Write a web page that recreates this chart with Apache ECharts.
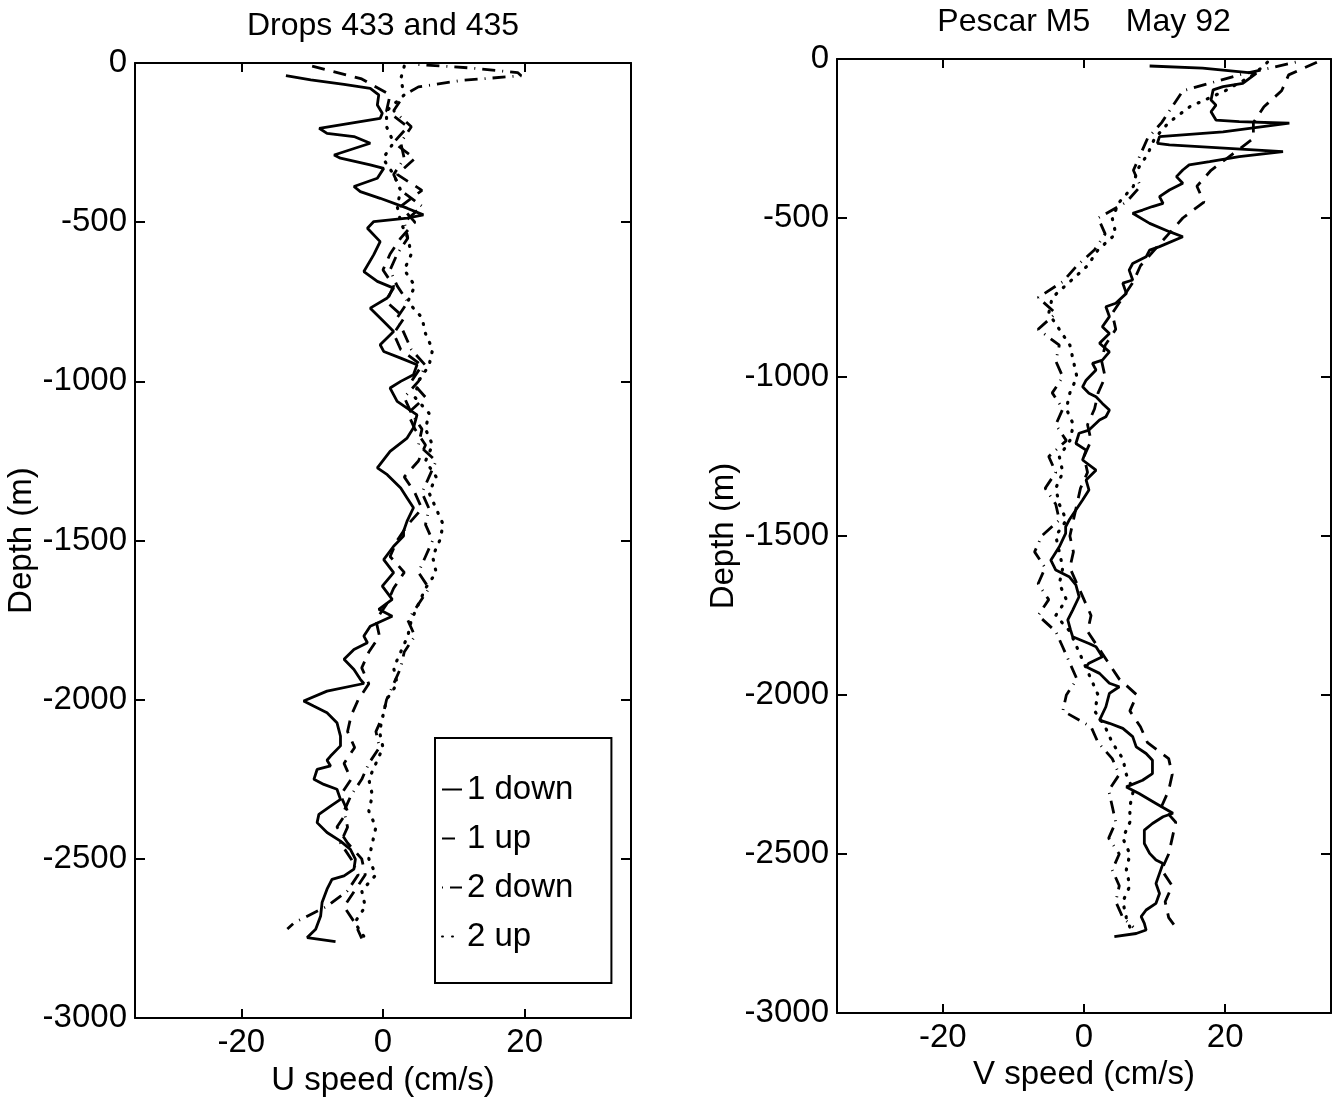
<!DOCTYPE html>
<html>
<head>
<meta charset="utf-8">
<title>Drops 433 and 435 / Pescar M5 May 92</title>
<script src="https://cdn.jsdelivr.net/npm/echarts@6/dist/echarts.min.js"></script>
<style>
  html, body { margin: 0; padding: 0; background: #fff; }
  #chart { width: 1335px; height: 1102px; }
</style>
</head>
<body>
<div id="chart"></div>
<script>
// ---------------- DATA ----------------
const seriesNames = ['1 down', '1 up', '2 down', '2 up'];
const xTickValues = [-20, 0, 20];

// Left panel (U speed) : 1 down (solid)
const leftDownDepth = [-40,-53,-67,-80,-100,-132,-158,-174,-205,-221,-231,-252,-289,-299,-320,-331,-362,-388,-404,-425,-456,-477,-487,-498,-519,-561,-602,-655,-686,-707,-738,-770,-812,-843,-885,-906,-927,-948,-979,-1000,-1021,-1063,-1105,-1146,-1178,-1220,-1272,-1293,-1335,-1366,-1397,-1439,-1471,-1486,-1518,-1560,-1601,-1643,-1685,-1716,-1738,-1769,-1800,-1821,-1842,-1873,-1905,-1936,-1949,-1973,-2004,-2020,-2041,-2072,-2114,-2145,-2177,-2190,-2208,-2219,-2250,-2266,-2281,-2313,-2334,-2360,-2386,-2417,-2444,-2470,-2501,-2532,-2553,-2564,-2595,-2637,-2679,-2721,-2747,-2760];
const leftDownU = [-13.7,-10.2,-5.5,-1.8,-0.6,-0.8,-0.1,-0.4,-9.0,-7.9,-4.1,-1.8,-6.9,-6.0,-1.8,0.1,-0.8,-4.1,-3.2,-0.4,3.4,5.7,3.4,-1.3,-2.2,-0.4,-1.3,-2.7,-0.8,1.5,0.6,-1.8,0.1,1.5,-0.4,0.1,2.5,4.8,4.3,2.5,1.0,2.0,4.8,4.3,3.4,1.0,-0.8,0.6,2.5,3.4,4.3,3.4,2.9,2.9,1.5,0.1,1.5,-0.1,1.3,-0.6,1.3,-1.8,-2.7,-2.2,-4.1,-5.5,-4.1,-3.2,-2.7,-7.9,-11.2,-9.8,-7.9,-6.5,-6.0,-6.0,-7.4,-7.9,-7.4,-9.3,-9.75,-8.35,-6.5,-6.0,-7.4,-9.05,-9.3,-7.9,-6.0,-4.6,-3.9,-4.1,-5.5,-7.2,-7.9,-8.6,-8.8,-9.5,-10.7,-6.7];

// Left panel common depth grid (m) for 1 up and 2 up
const leftGridDepth = [-10,-50,-100,-150,-200,-250,-300,-350,-400,-450,-500,-550,-600,-650,-700,-750,-800,-850,-900,-950,-1000,-1050,-1100,-1150,-1200,-1250,-1300,-1350,-1400,-1450,-1500,-1550,-1600,-1650,-1700,-1750,-1800,-1850,-1900,-1950,-2000,-2050,-2100,-2150,-2200,-2250,-2300,-2350,-2400,-2450,-2500,-2550,-2600,-2650,-2700,-2750];
const leftUp1U = [-10,-3,1,0.5,3.5,1.5,4.5,2,5.5,2.5,4.5,2.5,1,0,1.5,0.5,3,1.5,2.5,5.5,4,6,3.5,4.5,6,5,3,4.5,5.5,3.5,2,1,3,1.5,0.5,-1,-0.5,-2,-3,-2,-3.5,-4.5,-5,-4,-5.5,-4.5,-6,-5,-6.5,-5,-3,-2.5,-4,-5.5,-4,-3];
const leftUp2U = [3,2.5,3,0.5,0.5,1.5,0,1.5,2.5,2,2.5,3.5,4,3,4.5,3.5,5.5,6,7,6.5,5,4.5,6.5,6,7,6,7.5,6.5,7.5,8.5,8,7,7.5,6,5,4,3.5,2.5,1.5,2,0.5,0,-0.5,0,-1,-2,-1.5,-2,-1,-1.5,-2,-1,-3,-2.5,-4,-2.5];

// Left panel : 2 down (dash-dot)
const leftDown2Depth = [-5,-15,-30,-40,-55,-75,-100,-150,-200,-250,-300,-350,-400,-450,-500,-550,-600,-650,-700,-750,-800,-850,-900,-950,-1000,-1050,-1100,-1150,-1200,-1250,-1300,-1350,-1400,-1450,-1500,-1550,-1600,-1650,-1700,-1750,-1800,-1850,-1900,-1950,-2000,-2050,-2100,-2150,-2200,-2250,-2300,-2350,-2400,-2450,-2500,-2550,-2600,-2650,-2700,-2720];
const leftDown2U = [5,12,19,19.5,11,5,3,1.5,4,2.5,3,1.5,2.5,5.5,3,3.5,2,1,2,3.5,2,3,4,6,5,3,4,5.5,5,7.5,6.5,5.5,6.5,6,7,6,5,6.5,5,3.5,4.5,3,2.5,1.5,0.5,0,-1,-0.5,-2,-3,-4.5,-5.5,-5,-6,-4.5,-3.5,-5,-8,-12.5,-13.5];

// Right panel (V speed) : 1 down (solid)
const rightDownDepth = [-22,-29,-45,-77,-87,-97,-129,-145,-166,-192,-197,-202,-229,-244,-265,-270,-291,-307,-323,-333,-349,-370,-391,-412,-433,-454,-464,-475,-485,-517,-543,-559,-590,-601,-622,-643,-664,-695,-705,-737,-768,-779,-810,-842,-863,-894,-921,-947,-957,-978,-1010,-1031,-1051,-1062,-1083,-1104,-1125,-1135,-1167,-1177,-1209,-1230,-1261,-1293,-1324,-1355,-1387,-1418,-1450,-1471,-1492,-1534,-1576,-1607,-1628,-1654,-1691,-1733,-1764,-1796,-1817,-1838,-1848,-1880,-1900,-1911,-1932,-1963,-1974,-1995,-2037,-2079,-2089,-2105,-2131,-2163,-2184,-2205,-2247,-2268,-2289,-2310,-2341,-2372,-2383,-2404,-2425,-2467,-2498,-2519,-2530,-2561,-2593,-2624,-2655,-2676,-2697,-2718,-2739,-2750,-2760];
const rightDownV = [9.3,16.8,24.4,22.5,19.7,18.3,18.0,18.7,18.0,18.7,22.0,29.1,19.7,10.7,10.4,12.1,28.2,22.0,17.8,14.9,14.0,13.1,14.0,12.1,10.7,11.2,9.7,8.3,6.9,9.3,12.1,14.0,10.7,9.3,8.8,6.9,6.4,6.9,5.5,6.0,4.5,3.1,3.6,2.6,3.6,2.2,3.6,2.6,1.2,1.7,0.3,-0.2,0.7,1.7,2.6,3.6,3.1,2.2,0.7,-0.7,-1.15,0.3,-0.2,1.7,0.3,0.7,-0.2,-1.15,-2.1,-2.6,-2.6,-3.5,-4.7,-4.0,-2.1,-1.15,-0.7,-1.6,-2.3,-1.9,-1.6,0.7,1.7,2.6,0.7,0.3,2.2,3.6,5.0,3.6,3.1,2.2,3.6,5.5,6.9,7.4,8.8,9.7,9.7,8.3,6.0,7.8,10.2,12.6,11.2,9.7,8.55,8.55,9.3,10.2,11.2,10.7,10.2,10.7,10.2,8.8,8.1,8.55,8.8,7.4,4.3];

// Right panel common depth grid (m) for 1 up, 2 down, 2 up
const rightGridDepth = [-10,-50,-100,-150,-200,-250,-300,-350,-400,-450,-500,-550,-600,-650,-700,-750,-800,-850,-900,-950,-1000,-1050,-1100,-1150,-1200,-1250,-1300,-1350,-1400,-1450,-1500,-1550,-1600,-1650,-1700,-1750,-1800,-1850,-1900,-1950,-2000,-2050,-2100,-2150,-2200,-2250,-2300,-2350,-2400,-2450,-2500,-2550,-2600,-2650,-2700,-2730];
const rightUp1V = [33,29,28,25.5,24,24,21,18,16,17,14,12,10,8,7,5.5,4,4.5,3,2.5,3,2,1.5,0.5,1,0,0.5,-0.5,-1,-1.5,-2,-1.5,-2,-1,0,1,0.5,2,3.5,5,7.5,6.5,8,9,12,12.5,12,11,13,12.5,12,11,12.5,11.5,12,13];
const rightDown2V = [30,22,14,12.5,11,9,8,7,8,6,2,3,1.5,-1,-3,-6.5,-4,-6.5,-3.5,-4,-3,-4.5,-3,-4,-2.5,-5,-4,-5.5,-4,-3.5,-6,-7,-5.5,-6.5,-5,-6.5,-4,-3,-2,-1,-2.5,-3,1,2,4,5,3.5,4,4.5,3.5,5,4,5,4.5,5.5,7];
const rightUp2V = [26,24,20,15,12,10,9,7.5,7,5,4,4.5,2,0.5,-2,-4.5,-5,-3.5,-2,-1.5,-1,-2,-2.5,-1.5,-2,-3.5,-3,-4,-3.5,-2.5,-4,-3.5,-3,-3.5,-2.5,-4,-2,-1,0,1,2,1.5,3,4,5.5,6,7,6.5,6.5,5.5,6.5,6,6.5,5.5,6,6.5];

// ---------------- CHART ----------------
const FONT = "'Liberation Sans', Arial, Helvetica, sans-serif";
const BLACK = '#000';

function pairs(vals, depths) { return vals.map((v, i) => [v, depths[i]]); }

const styles = {
  '1 down': { type: 'solid', width: 2.8 },
  '1 up':   { type: [13, 9], width: 2.8 },
  '2 down': { type: [13, 7, 1, 7], dashOffset: 20, width: 2.8 },
  '2 up':   { type: [1, 9], width: 3.2, cap: 'round' }
};

function mkSeries(name, vals, depths, gi) {
  return {
    name: name, type: 'line', xAxisIndex: gi * 2, yAxisIndex: gi * 2,
    data: pairs(vals, depths), symbol: 'none', showSymbol: false,
    silent: true, animation: false, clip: true,
    lineStyle: Object.assign({ color: BLACK }, styles[name]),
    itemStyle: { color: BLACK }
  };
}

function xAxes(gi, name, title) {
  const tick = { show: true, inside: true, length: 9, customValues: xTickValues, lineStyle: { color: BLACK, width: 2 } };
  return [
    { gridIndex: gi, type: 'value', min: -35, max: 35, position: 'bottom',
      name: name, nameLocation: 'middle', nameGap: 44,
      nameTextStyle: { fontSize: 33, color: BLACK, fontFamily: FONT },
      axisLine: { show: true, onZero: false, lineStyle: { color: BLACK, width: 2 } },
      axisTick: tick,
      axisLabel: { customValues: xTickValues, fontSize: 33, color: BLACK, fontFamily: FONT, margin: 8 },
      splitLine: { show: false } },
    { gridIndex: gi, type: 'value', min: -35, max: 35, position: 'top',
      name: title, nameLocation: 'middle', nameGap: 21,
      nameTextStyle: { fontSize: 32, color: BLACK, fontFamily: FONT },
      axisLine: { show: true, onZero: false, lineStyle: { color: BLACK, width: 2 } },
      axisTick: tick, axisLabel: { show: false }, splitLine: { show: false } }
  ];
}

function yAxes(gi) {
  const tick = { show: true, inside: true, length: 10, lineStyle: { color: BLACK, width: 2 } };
  return [
    { gridIndex: gi, type: 'value', min: -3000, max: 0, interval: 500, position: 'left',
      name: 'Depth (m)', nameLocation: 'middle', nameGap: 83, nameRotate: 90,
      nameTextStyle: { fontSize: 33, color: BLACK, fontFamily: FONT },
      axisLine: { show: true, onZero: false, lineStyle: { color: BLACK, width: 2 } },
      axisTick: tick,
      axisLabel: { fontSize: 33, color: BLACK, fontFamily: FONT, margin: 8, formatter: v => String(v) },
      splitLine: { show: false } },
    { gridIndex: gi, type: 'value', min: -3000, max: 0, interval: 500, position: 'right',
      axisLine: { show: true, onZero: false, lineStyle: { color: BLACK, width: 2 } },
      axisTick: tick, axisLabel: { show: false }, splitLine: { show: false } }
  ];
}

const chart = echarts.init(document.getElementById('chart'), null, { renderer: 'canvas' });
chart.setOption({
  backgroundColor: '#fff',
  animation: false,
  textStyle: { fontFamily: FONT },
  grid: [
    { left: 135, top: 63, width: 496, height: 956, containLabel: false },
    { left: 837, top: 59, width: 494, height: 954, containLabel: false }
  ],
  xAxis: xAxes(0, 'U speed (cm/s)', 'Drops 433 and 435').concat(xAxes(1, 'V speed (cm/s)', 'Pescar M5    May 92')),
  yAxis: yAxes(0).concat(yAxes(1)),
  legend: {
    data: seriesNames, orient: 'vertical', left: 435, top: 738,
    padding: [35, 38, 30, 6], itemGap: 16, itemWidth: 20, itemHeight: 14,
    backgroundColor: '#fff', borderColor: BLACK, borderWidth: 2, borderRadius: 0,
    selectedMode: false,
    itemStyle: { color: 'rgba(0,0,0,0)', borderColor: 'rgba(0,0,0,0)', borderWidth: 0, opacity: 0 },
    lineStyle: { color: BLACK },
    textStyle: { fontSize: 33, color: BLACK, fontFamily: FONT, lineHeight: 32 }
  },
  series: [
    mkSeries('1 down', leftDownU, leftDownDepth, 0),
    mkSeries('1 up', leftUp1U, leftGridDepth, 0),
    mkSeries('2 down', leftDown2U, leftDown2Depth, 0),
    mkSeries('2 up', leftUp2U, leftGridDepth, 0),
    mkSeries('1 down', rightDownV, rightDownDepth, 1),
    mkSeries('1 up', rightUp1V, rightGridDepth, 1),
    mkSeries('2 down', rightDown2V, rightGridDepth, 1),
    mkSeries('2 up', rightUp2V, rightGridDepth, 1)
  ]
});
</script>
</body>
</html>
